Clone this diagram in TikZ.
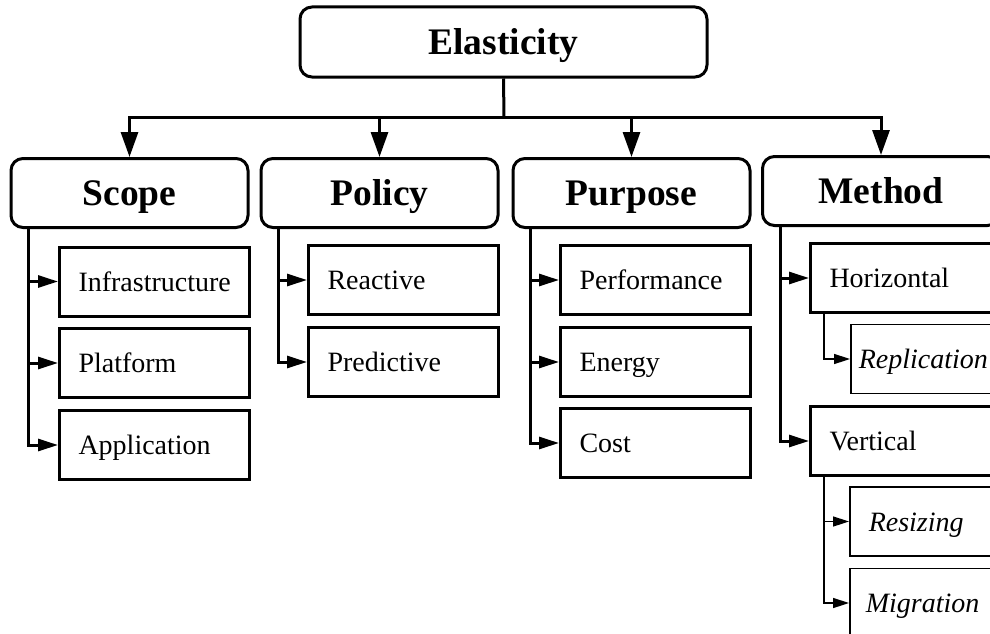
\documentclass[tikz,border=0pt]{standalone}
\usepackage{fontspec}
\setmainfont{Liberation Serif}
\usetikzlibrary{arrows.meta}
\tikzset{
  mainbox/.style={draw, line width=3pt, rounded corners=12pt, minimum width=237pt,
    minimum height=69pt, inner sep=0pt, text height=25pt, text depth=0pt,
    font=\fontsize{37.5}{40}\selectfont\bfseries},
  subbox/.style={draw, line width=3pt, anchor=west, minimum height=69pt,
    inner ysep=0pt, inner xsep=19pt, text width=152pt, align=left,
    text height=19pt, text depth=0pt, font=\fontsize{28}{30}\selectfont},
  leafbox/.style={draw, line width=1.5pt, anchor=west, minimum height=69pt,
    inner ysep=0pt, text height=19pt, text depth=0pt, align=left,
    font=\fontsize{28}{30}\selectfont\itshape},
  mainconn/.style={line width=3pt, -{Triangle[length=25pt,width=17pt]}},
  subconn/.style={line width=3pt, -{Triangle[length=20pt,width=12pt]}},
  leafconn/.style={line width=1.5pt, -{Triangle[length=16pt,width=10pt]}},
}
\begin{document}
\begin{tikzpicture}[x=1pt,y=-1pt]
\useasboundingbox (0,0) rectangle (990,634);
\clip (0,0) rectangle (990,634);
\fill[white] (0,0) rectangle (990,634);

\node[mainbox, minimum width=407pt, minimum height=70pt] (E) at (503.5,42) {Elasticity};

\node[mainbox] (scope) at (129.5,193) {Scope};
\node[mainbox] (policy) at (379.5,193) {Policy};
\node[mainbox] (purpose) at (631.5,193) {Purpose};
\node[mainbox] (method) at (881,191) {Method};

\coordinate (bar) at (504,117);
\draw[line width=3pt] (E.south) -- (bar);
\draw[mainconn] (bar) -| (scope.north);
\draw[mainconn] (bar) -| (policy.north);
\draw[mainconn] (bar) -| (purpose.north);
\draw[mainconn] (bar) -| (method.north);

% Scope
\node[subbox] (infra) at (58,281.5) {Infrastructure};
\node[subbox] (plat) at (58,363) {Platform};
\node[subbox] (app) at (58,445) {Application};
\draw[subconn] ([xshift=19pt]scope.south west) |- (infra.west);
\draw[subconn] ([xshift=19pt]scope.south west) |- (plat.west);
\draw[subconn] ([xshift=19pt]scope.south west) |- (app.west);

% Policy
\node[subbox] (react) at (307,280) {Reactive};
\node[subbox] (pred) at (307,362) {Predictive};
\draw[subconn] ([xshift=19pt]policy.south west) |- (react.west);
\draw[subconn] ([xshift=19pt]policy.south west) |- (pred.west);

% Purpose
\node[subbox] (perf) at (559,280) {Performance};
\node[subbox] (energy) at (559,362) {Energy};
\node[subbox] (cost) at (559,443) {Cost};
\draw[subconn] ([xshift=19pt]purpose.south west) |- (perf.west);
\draw[subconn] ([xshift=19pt]purpose.south west) |- (energy.west);
\draw[subconn] ([xshift=19pt]purpose.south west) |- (cost.west);

% Method
\node[subbox] (horiz) at (809,278) {Horizontal};
\node[subbox] (vert) at (809,441) {Vertical};
\draw[subconn] ([xshift=19pt]method.south west) |- (horiz.west);
\draw[subconn] ([xshift=19pt]method.south west) |- (vert.west);

\node[leafbox, inner xsep=8pt, text width=134pt] (repl) at (850,359) {Replication};
\node[leafbox, inner xsep=19pt, text width=112pt] (resz) at (849,521.5) {Resizing};
\node[leafbox, inner xsep=16pt, text width=118pt] (migr) at (849,603) {Migration};
\draw[leafconn] ([xshift=15pt]horiz.south west) |- (repl.west);
\draw[leafconn] ([xshift=15pt]vert.south west) |- (resz.west);
\draw[leafconn] ([xshift=15pt]vert.south west) |- (migr.west);
\end{tikzpicture}
\end{document}
